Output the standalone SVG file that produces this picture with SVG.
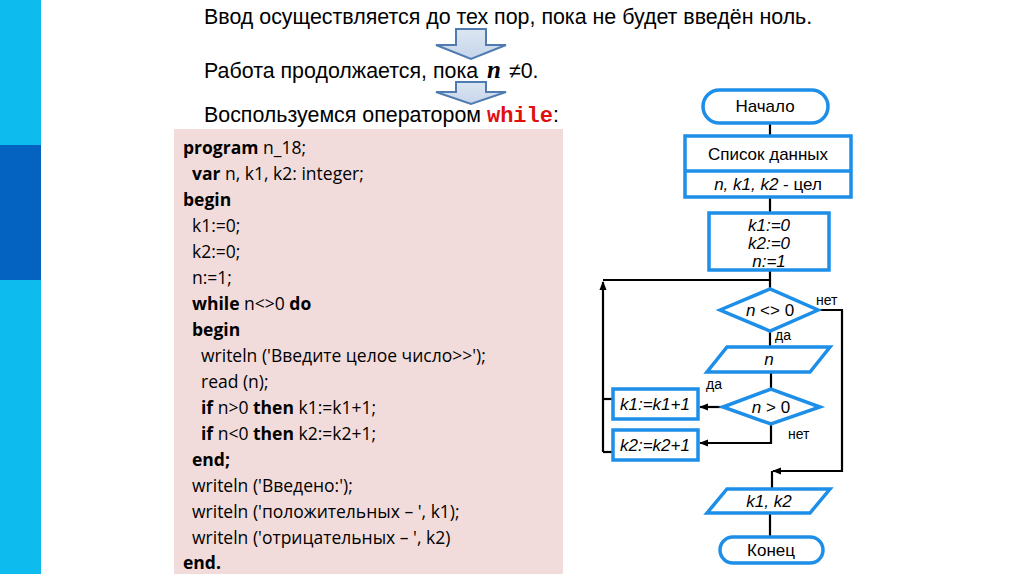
<svg xmlns="http://www.w3.org/2000/svg" width="1024" height="574" viewBox="0 0 1024 574">
  <defs>
    <marker id="ah" viewBox="0 0 10 10" refX="9" refY="5" markerWidth="9" markerHeight="9" markerUnits="userSpaceOnUse" orient="auto">
      <path d="M0,1 L10,5 L0,9 Z" fill="#000"/>
    </marker>
    <linearGradient id="blk" x1="0" y1="0" x2="0" y2="1">
      <stop offset="0" stop-color="#dce6f2"/>
      <stop offset="1" stop-color="#c5d5ea"/>
    </linearGradient>
  </defs>
  <style>
    .title { font-family: "Liberation Sans", Arial, sans-serif; font-size: 21.4px; fill: #000; }
    .code { font-family: "Open Sans", "Noto Sans", sans-serif; font-size: 17.5px; fill: #000; }
    .b { font-weight: bold; }
    .shape { fill: #fff; stroke: #1e8fe8; stroke-width: 3.5; }
    .ft { font-family: "Liberation Sans", Arial, sans-serif; font-size: 17px; fill: #000; text-anchor: middle; }
    .it { font-style: italic; }
    .lbl { font-family: "Liberation Sans", Arial, sans-serif; font-size: 14px; fill: #000; }
    .conn { fill: none; stroke: #000; stroke-width: 2.2; }
    .blockarrow { fill: url(#blk); stroke: #4f7bb0; stroke-width: 2; }
  </style>
  <rect x="0" y="0" width="1024" height="574" fill="#fff"/>
  <!-- left stripe -->
  <g id="stripe">
    <rect x="0" y="0" width="41" height="574" fill="#0dbbef"/>
    <rect x="0" y="145" width="41" height="135" fill="#0462c1"/>
  </g>

  <!-- heading texts -->
  <g id="heading">
    <text class="title" x="204" y="24">Ввод осуществляется до тех пор, пока не будет введён ноль.</text>
    <text class="title" x="204" y="78">Работа продолжается, пока <tspan dx="3" font-family="'Liberation Serif', serif" font-weight="bold" font-style="italic" font-size="25">n</tspan> <tspan dx="2">≠0.</tspan></text>
    <text class="title" x="204" y="122">Воспользуемся оператором <tspan font-family="'Liberation Mono', monospace" font-weight="bold" fill="#e01010" font-size="22">while</tspan>:</text>
    <path class="blockarrow" d="M456,29 L486,29 L486,45 L506,45 L471,59 L436,45 L456,45 Z"/>
    <path class="blockarrow" d="M456,82 L486,82 L486,92 L506,92 L471,104 L436,92 L456,92 Z"/>
  </g>

  <!-- code block -->
  <g id="code">
    <rect x="174" y="129" width="389" height="445" fill="#f2dcdb"/>
    <text class="code" x="183" y="154"><tspan class="b">program</tspan> n_18;</text>
    <text class="code" x="192" y="180"><tspan class="b">var</tspan> n, k1, k2: integer;</text>
    <text class="code b" x="183" y="206">begin</text>
    <text class="code" x="192" y="232">k1:=0;</text>
    <text class="code" x="192" y="258">k2:=0;</text>
    <text class="code" x="192" y="284">n:=1;</text>
    <text class="code" x="192" y="310"><tspan class="b">while</tspan> n&lt;&gt;0 <tspan class="b">do</tspan></text>
    <text class="code b" x="192" y="336">begin</text>
    <text class="code" x="201" y="362">writeln ('Введите целое число&gt;&gt;');</text>
    <text class="code" x="201" y="388">read (n);</text>
    <text class="code" x="201" y="414"><tspan class="b">if</tspan> n&gt;0 <tspan class="b">then</tspan> k1:=k1+1;</text>
    <text class="code" x="201" y="440"><tspan class="b">if</tspan> n&lt;0 <tspan class="b">then</tspan> k2:=k2+1;</text>
    <text class="code b" x="192" y="466">end;</text>
    <text class="code" x="192" y="492">writeln ('Введено:');</text>
    <text class="code" x="192" y="518">writeln ('положительных – ', k1);</text>
    <text class="code" x="192" y="544">writeln ('отрицательных – ', k2)</text>
    <text class="code b" x="183" y="569">end.</text>
  </g>

  <!-- connectors -->
  <g id="connectors">
    <path class="conn" d="M770,122 V136"/>
    <path class="conn" d="M770,197 V213"/>
    <path class="conn" d="M770,270 V280 H603"/>
    <path class="conn" d="M603,452 V282" marker-end="url(#ah)"/>
    <path class="conn" d="M613,399 H603"/>
    <path class="conn" d="M613,452 H603"/>
    <path class="conn" d="M770,280 V290"/>
    <path class="conn" d="M770,330 V347"/>
    <path class="conn" d="M771,372 V389"/>
    <path class="conn" d="M723,407 H700" marker-end="url(#ah)"/>
    <path class="conn" d="M771,424 V443 H700" marker-end="url(#ah)"/>
    <path class="conn" d="M818,310 H842 V471 H773" marker-end="url(#ah)"/>
    <path class="conn" d="M772,471 V489"/>
    <path class="conn" d="M770,513 V537"/>
    <text class="lbl" x="816" y="305">нет</text>
    <text class="lbl" x="775" y="340">да</text>
    <text class="lbl" x="706" y="389">да</text>
    <text class="lbl" x="788" y="439">нет</text>
  </g>

  <!-- nodes -->
  <g id="start">
    <rect class="shape" x="703" y="90" width="125" height="33" rx="16.5"/>
    <text class="ft" x="765" y="112">Начало</text>
  </g>
  <g id="data">
    <rect class="shape" x="685" y="136" width="166" height="61"/>
    <line x1="685" y1="171" x2="851" y2="171" stroke="#1e8fe8" stroke-width="3.5"/>
    <text class="ft" x="768" y="160">Список данных</text>
    <text class="ft" x="768" y="190"><tspan class="it">n, k1, k2</tspan> - цел</text>
  </g>
  <g id="init">
    <rect class="shape" x="709" y="213" width="120" height="57"/>
    <text class="ft it" x="769" y="231">k1:=0</text>
    <text class="ft it" x="769" y="249">k2:=0</text>
    <text class="ft it" x="769" y="267">n:=1</text>
  </g>
  <g id="cond1">
    <polygon class="shape" points="720,310 770,289 818,310 770,331"/>
    <text class="ft" x="770" y="316"><tspan class="it">n</tspan> &lt;&gt; 0</text>
  </g>
  <g id="input">
    <polygon class="shape" points="727,347 830,347 810,372 707,372"/>
    <text class="ft it" x="769" y="365">n</text>
  </g>
  <g id="cond2">
    <polygon class="shape" points="723,407 771,389 820,407 771,424"/>
    <text class="ft" x="771" y="413"><tspan class="it">n</tspan> &gt; 0</text>
  </g>
  <g id="inc1">
    <rect class="shape" x="613" y="389" width="85" height="30"/>
    <text class="ft it" x="655" y="410">k1:=k1+1</text>
  </g>
  <g id="inc2">
    <rect class="shape" x="613" y="430" width="85" height="30"/>
    <text class="ft it" x="655" y="451">k2:=k2+1</text>
  </g>
  <g id="output">
    <polygon class="shape" points="727,489 830,489 810,513 707,513"/>
    <text class="ft it" x="769" y="507">k1, k2</text>
  </g>
  <g id="end">
    <rect class="shape" x="720" y="537" width="103" height="26" rx="13"/>
    <text class="ft" x="771" y="556">Конец</text>
  </g>
</svg>
